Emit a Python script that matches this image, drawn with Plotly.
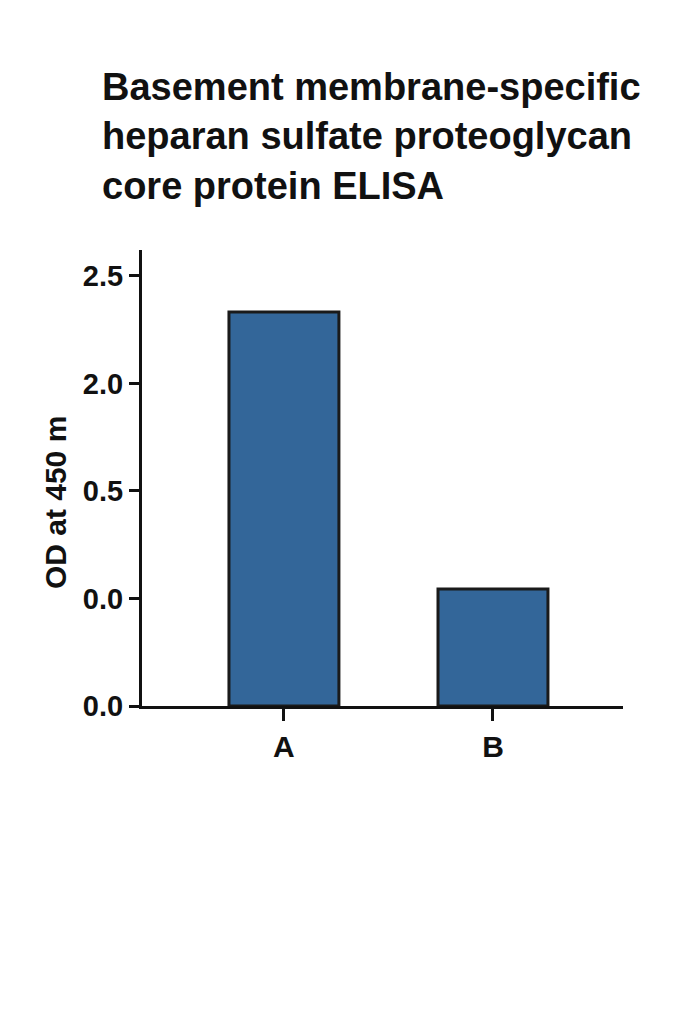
import plotly.graph_objects as go

# sample groups and OD readings
groups = ["A", "B"]
od_values = [2.29, 0.68]

# y tick labels as printed on the original figure
y_tickvals = [0, 0.625, 1.25, 1.875, 2.5]
y_ticktext = ["0.0", "0.0", "0.5", "2.0", "2.5"]

title_text = ("Basement membrane-specific<br>heparan sulfate proteoglycan"
              "<br>core protein ELISA")

fig = go.Figure()
fig.add_trace(go.Bar(x=groups, y=od_values, width=0.526,
                     marker=dict(color="#336699",
                                 line=dict(color="#1a1a1a", width=3))))

fig.update_layout(
    width=683, height=1024,
    paper_bgcolor="white", plot_bgcolor="white",
    margin=dict(l=134, r=68, t=242, b=326),
    font=dict(family="Liberation Sans, Arial, sans-serif", color="#111111"),
    showlegend=False,
    title=dict(text="<b>" + title_text + "</b>", xref="container", yref="container",
               x=94 / 683, xanchor="left", y=1 - 92 / 1024, yanchor="top",
               font=dict(size=38, color="#111111")),
)

# y axis title placed by hand, it sits a bit below the plot centre
fig.add_annotation(text="<b>OD at 450 m</b>", xref="paper", yref="paper",
                   x=-0.181, y=0.447, xanchor="center", yanchor="middle",
                   textangle=-90, showarrow=False,
                   font=dict(size=30, color="#111111"))

fig.update_xaxes(range=[-0.679, 1.622], showline=True, linecolor="#111111",
                 linewidth=3, ticks="outside", ticklen=12, tickwidth=3,
                 tickcolor="#111111", showgrid=False,
                 tickfont=dict(size=30), ticklabelstandoff=0)
fig.update_xaxes(tickprefix="<b>", ticksuffix="</b>")

fig.update_yaxes(range=[0, 2.651], tickvals=y_tickvals, ticktext=["<b>" + t + "</b>" for t in y_ticktext],
                 showline=True, linecolor="#111111", linewidth=3,
                 ticks="outside", ticklen=10, tickwidth=3, tickcolor="#111111",
                 showgrid=False, zeroline=False, tickfont=dict(size=29))

fig.write_html("out.html")
